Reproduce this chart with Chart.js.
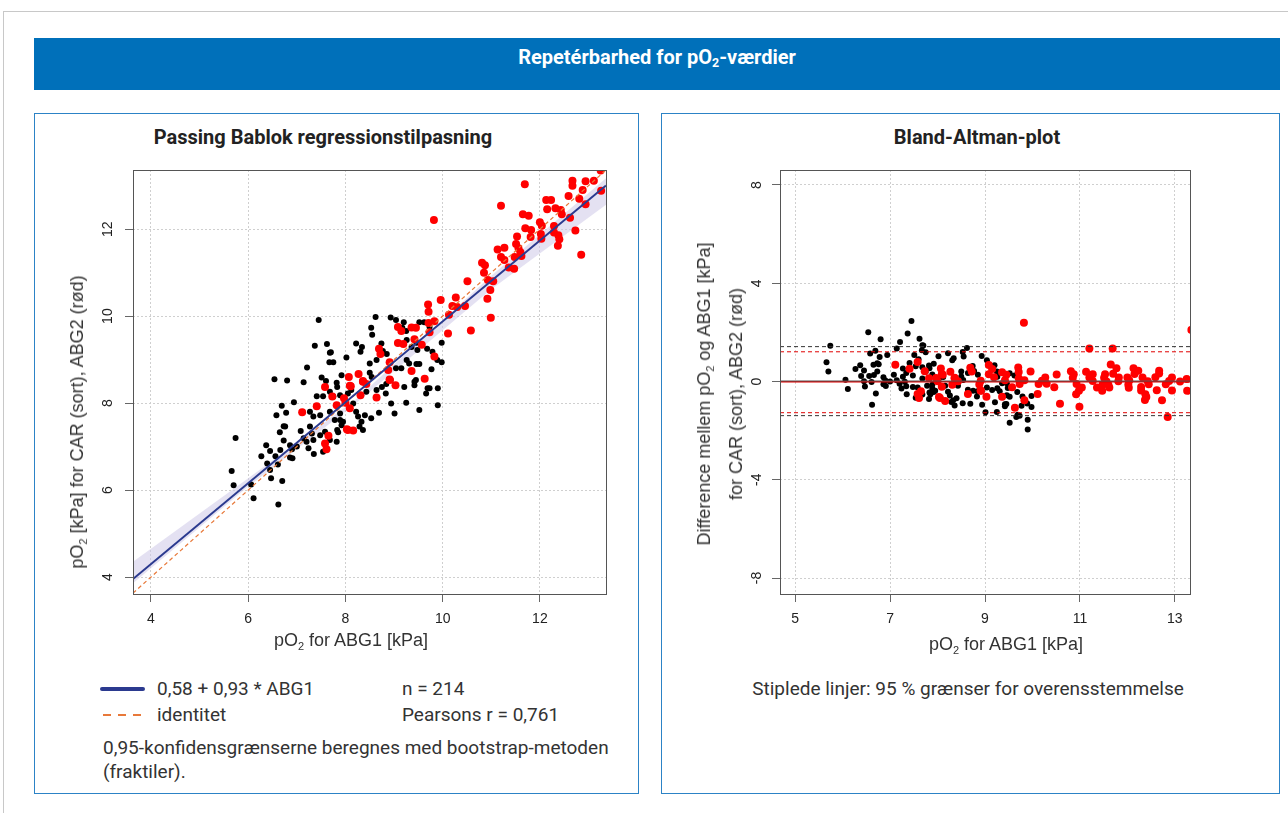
<!DOCTYPE html>
<html>
<head>
<meta charset="utf-8">
<script src="https://cdn.jsdelivr.net/npm/chart.js@4.4.1/dist/chart.umd.min.js"></script>
<style>
body { margin: 0; width: 1288px; height: 813px; overflow: hidden; position: relative; background: #fff; font-family: Roboto, "Liberation Sans", sans-serif; color: #333; }
.frame { position: absolute; left: 3px; top: 11px; width: 1300px; height: 900px; border-top: 1px solid #c8c8c8; border-left: 1px solid #c8c8c8; }
.banner { position: absolute; left: 34px; top: 38px; width: 1246px; height: 52px; background: #0070ba; color: #fff; font-weight: bold; font-size: 20px; text-align: center; line-height: 38px; }
.banner sub, .t sub { font-size: 0.62em; vertical-align: -0.25em; }
.panel { position: absolute; top: 113px; height: 681px; border: 1px solid #2c83c6; box-sizing: border-box; }
.ptitle { position: absolute; top: 125px; font-weight: bold; font-size: 20px; line-height: 24px; color: #222; transform: translateX(-50%); white-space: nowrap; }
.t { position: absolute; white-space: nowrap; font-size: 19px; line-height: 22px; color: #333; }
.ax { position: absolute; white-space: nowrap; font-family: "Liberation Sans", Arial, sans-serif; font-size: 18px; color: #333; line-height: 26px; text-align: center; transform: translate(-50%, -50%); }
.rot { transform: translate(-50%, -50%) rotate(-90deg); }
canvas { position: absolute; }
</style>
</head>
<body>
<div class="frame"></div>
<div class="banner">Repetérbarhed for pO<sub>2</sub>-værdier</div>
<div class="panel" style="left:34px;width:605px;"></div>
<div class="panel" style="left:661px;width:619px;"></div>
<div class="ptitle" style="left:323px;">Passing Bablok regressionstilpasning</div>
<div class="ptitle" style="left:977px;">Bland-Altman-plot</div>

<canvas id="pb" width="590" height="510" style="left:40px;top:150px;"></canvas>
<canvas id="ba" width="590" height="510" style="left:670px;top:150px;"></canvas>

<div class="ax" style="left:351px;top:643px;">pO<sub style="font-size:11px;vertical-align:-4px">2</sub> for ABG1 [kPa]</div>
<div class="ax rot" style="left:80px;top:422px;">pO<sub style="font-size:11px;vertical-align:-4px">2</sub> [kPa] for CAR (sort), ABG2 (rød)</div>
<div class="ax" style="left:1006px;top:647px;">pO<sub style="font-size:11px;vertical-align:-4px">2</sub> for ABG1 [kPa]</div>
<div class="ax rot" style="left:720px;top:394px;">Difference mellem pO<sub style="font-size:11px;vertical-align:-4px">2</sub> og ABG1 [kPa]<br>for CAR (sort), ABG2 (rød)</div>

<div style="position:absolute;left:100px;top:687px;width:45px;height:4px;background:#2b3a8f;border-radius:2px;"></div>
<div style="position:absolute;left:103px;top:714px;width:38px;height:2px;background:repeating-linear-gradient(90deg,#e8793a 0 8px,transparent 8px 15px);"></div>
<div class="t" style="left:157px;top:678px;">0,58 + 0,93 * ABG1</div>
<div class="t" style="left:402px;top:678px;">n = 214</div>
<div class="t" style="left:157px;top:704px;">identitet</div>
<div class="t" style="left:402px;top:704px;">Pearsons r = 0,761</div>
<div class="t" style="left:103px;top:737px;">0,95-konfidensgrænserne beregnes med bootstrap-metoden</div>
<div class="t" style="left:103px;top:761px;">(fraktiler).</div>
<div class="t" style="left:968px;top:678px;transform:translateX(-50%);">Stiplede linjer: 95 % grænser for overensstemmelse</div>

<script>
// data: ABG1 on x, CAR (black) and ABG2 (red) on y
const blackAbg1 = [8.62,8.93,9.04,8.53,8.55,9.20,9.17,9.25,9.52,9.62,9.73,9.26,9.36,9.46,9.48,8.22,8.31,8.34,8.74,8.77,8.85,9.68,9.79,9.98,9.89,9.98,8.02,8.50,8.64,9.04,9.15,9.26,9.31,9.46,9.52,9.77,7.92,7.82,8.50,8.54,8.75,8.84,8.93,9.45,9.42,9.21,9.73,9.90,7.68,7.75,7.45,7.37,7.62,7.70,7.67,7.21,6.54,6.80,7.14,7.51,7.60,7.83,6.69,6.94,6.78,7.41,7.54,7.89,7.27,7.34,7.48,7.68,7.78,7.89,6.58,6.73,6.76,7.08,6.65,6.73,7.27,7.31,7.14,7.20,7.34,7.48,7.58,7.68,7.82,7.85,7.92,6.86,6.90,7.00,6.37,6.45,6.66,6.56,6.86,6.91,6.27,6.39,6.61,6.45,6.47,6.70,5.74,5.66,5.70,6.06,6.11,6.62,7.24,7.35,7.54,7.68,7.75,7.89,7.95,7.83,8.22,8.26,8.33,8.29,8.36,8.16,8.05,8.12,8.40,8.53,8.69,8.43,8.64,8.83,8.94,9.01,9.25,9.52,9.66,9.69,9.90,9.42];
const blackCar  = [9.98,9.97,9.91,9.73,9.57,9.86,9.73,9.66,9.86,9.86,9.75,9.45,9.29,9.39,9.22,9.37,9.18,9.29,9.37,9.20,9.13,9.25,9.18,9.39,8.99,8.94,9.05,8.91,8.99,8.80,8.80,8.99,8.91,8.90,8.90,8.78,8.64,8.47,8.70,8.60,8.37,8.44,8.53,8.53,8.41,8.37,8.34,8.34,9.16,8.94,9.91,9.32,9.36,9.17,8.94,8.82,8.55,8.52,8.48,8.59,8.51,8.37,7.94,8.02,7.78,8.16,8.16,8.18,7.80,7.69,7.72,7.80,7.61,7.61,7.72,7.47,7.46,7.36,7.33,7.14,7.46,7.30,7.19,7.11,7.15,7.26,7.34,7.15,7.11,7.33,7.49,7.03,6.94,7.00,7.03,6.90,6.92,6.78,6.75,6.73,6.78,6.61,6.59,6.46,6.27,6.21,7.20,6.44,6.11,6.13,5.81,5.67,6.96,6.83,6.88,8.26,8.15,7.76,7.57,7.38,7.80,7.69,7.57,7.46,7.38,7.99,8.22,8.30,7.72,7.65,7.78,8.26,8.30,8.22,7.99,7.76,8.01,7.84,8.22,8.34,7.95,8.49];
const redAbg1 = [13.25,11.69,12.67,12.67,12.94,13.11,13.26,12.88,12.59,12.81,12.94,11.20,12.13,12.23,12.15,12.32,12.43,12.45,11.65,11.77,12.62,12.00,12.04,11.70,11.82,12.29,12.73,9.82,11.53,11.51,11.56,11.60,12.02,12.03,11.81,12.29,12.38,12.40,12.37,11.13,11.27,11.20,11.27,11.48,11.36,11.47,11.62,12.85,10.81,10.87,10.85,10.93,11.04,10.98,10.51,10.92,10.99,10.58,10.27,9.96,10.20,10.30,10.46,9.70,9.71,10.13,10.11,9.83,9.71,9.73,9.08,9.15,9.36,9.45,9.42,9.08,9.19,9.57,8.69,8.72,8.91,9.83,9.36,8.88,8.91,8.27,8.36,8.07,9.03,9.63,8.11,7.58,7.73,7.97,8.00,7.82,7.41,7.11,8.03,7.65,7.58,7.61,8.09,8.09,8.36,8.43,8.31,8.64,8.91,8.05,8.16,13.35];
const redAbg2 = [13.35,13.03,13.11,13.00,13.10,13.11,12.88,12.90,12.76,12.70,12.57,12.54,12.67,12.67,12.46,12.48,12.44,12.34,12.34,12.31,12.26,12.16,12.08,12.02,11.98,12.07,11.97,12.21,11.83,11.66,11.56,11.47,11.89,11.78,11.82,11.92,11.86,11.77,11.62,11.53,11.57,11.36,11.29,11.36,11.12,11.09,11.38,11.41,11.23,11.17,11.00,10.83,10.80,10.60,10.80,10.40,9.96,9.67,10.43,10.37,10.23,10.21,10.23,10.27,10.10,10.03,9.60,9.88,9.84,9.63,9.75,9.66,9.74,9.73,9.47,9.38,9.36,9.34,9.25,9.13,8.94,9.07,8.74,8.76,8.54,8.67,8.51,8.60,8.41,8.56,8.39,8.37,8.15,8.11,8.01,7.95,7.93,7.79,7.40,7.25,7.07,6.94,7.88,8.40,8.49,8.44,8.18,8.13,8.53,7.38,7.37,15.45];

// regression 0,58 + 0,93 * ABG1 and its confidence band
const regIntercept = 0.58;
const regSlope = 0.93;
const pbRange = [3.63, 13.36];
const bandX  = [3.63, 6.0, 8.2, 11.0, 13.36];
const bandLo = [3.86, 6.08, 7.98, 10.62, 12.56];
const bandHi = [4.35, 6.27, 8.07, 10.93, 13.17];

// Bland-Altman reference lines
const baRangeX = [4.68, 13.32];
const baRangeY = [-8.65, 8.61];
const blackMean = 0.01, blackLoa = [-1.39, 1.42];
const redMean = -0.02, redLoa = [-1.27, 1.21];

const pbTicks = [4, 6, 8, 10, 12];
const baTicksX = [5, 7, 9, 11, 13];
const baTicksY = [-8, -4, 0, 4, 8];

const zip = (xs, ys) => xs.map((x, i) => ({x: x, y: ys[i]}));
const hline = (v) => baRangeX.map(x => ({x: x, y: v}));

const boxPlugin = {
  id: 'box',
  afterDraw(chart) {
    const {ctx, chartArea: a} = chart;
    ctx.save();
    ctx.strokeStyle = '#555';
    ctx.lineWidth = 1;
    ctx.strokeRect(a.left + 0.5, a.top + 0.5, a.right - a.left, a.bottom - a.top);
    ctx.restore();
  }
};

function axis(min, max, ticks, size, vertical) {
  return {
    type: 'linear', min: min, max: max,
    afterBuildTicks: s => { s.ticks = ticks.map(v => ({value: v})); },
    afterFit: s => { if (vertical) s.width = size; else s.height = size; },
    grid: { color: '#cfcfcf', lineWidth: 1, drawTicks: true, tickLength: 8, tickColor: '#666', tickWidth: 1, tickBorderDash: [] },
    border: { display: false, dash: [2, 2] },
    ticks: vertical
      ? { color: '#222', font: {family: 'Liberation Sans', size: 14}, padding: 9, minRotation: 90, maxRotation: 90, crossAlign: 'center' }
      : { color: '#222', font: {family: 'Liberation Sans', size: 14}, padding: 9, maxRotation: 0 }
  };
}

const common = {
  responsive: false, animation: false, events: [],
  plugins: { legend: {display: false}, tooltip: {enabled: false} }
};

const pointSet = (label, data, color, r, order) => ({
  label: label, data: data, showLine: false, pointRadius: r, pointBackgroundColor: color,
  pointBorderWidth: 0, order: order, clip: 0
});

new Chart(document.getElementById('pb'), {
  type: 'scatter',
  data: {
    datasets: [
      { label: 'regression', data: pbRange.map(x => ({x: x, y: regIntercept + regSlope * x})), showLine: true,
        borderColor: '#2b3a8f', borderWidth: 2, pointRadius: 0, order: 1, clip: 0 },
      { label: 'identitet', data: pbRange.map(x => ({x: x, y: x})), showLine: true,
        borderColor: '#e8793a', borderWidth: 1.2, borderDash: [4, 3], pointRadius: 0, order: 2, clip: 0 },
      pointSet('ABG2', zip(redAbg1, redAbg2), '#ff0000', 4, 3),
      pointSet('CAR', zip(blackAbg1, blackCar), '#000000', 3, 4),
      { label: 'band hi', data: zip(bandX, bandHi), showLine: true, borderWidth: 0, pointRadius: 0,
        fill: '+1', backgroundColor: 'rgba(205,200,232,0.55)', order: 5, clip: 0 },
      { label: 'band lo', data: zip(bandX, bandLo), showLine: true, borderWidth: 0, pointRadius: 0,
        fill: false, order: 6, clip: 0 }
    ]
  },
  options: Object.assign({}, common, {
    layout: { padding: {left: 0, right: 24, top: 20, bottom: 0} },
    scales: { x: axis(pbRange[0], pbRange[1], pbTicks, 66, false), y: axis(3.61, 13.36, pbTicks, 93, true) }
  }),
  plugins: [boxPlugin]
});

new Chart(document.getElementById('ba'), {
  type: 'scatter',
  data: {
    datasets: [
      { label: 'red mean', data: hline(redMean), showLine: true, borderColor: '#e00000', borderWidth: 1, pointRadius: 0, order: 1, clip: 0 },
      { label: 'black mean', data: hline(blackMean), showLine: true, borderColor: '#555', borderWidth: 1.6, pointRadius: 0, order: 2, clip: 0 },
      { label: 'red loa hi', data: hline(redLoa[1]), showLine: true, borderColor: '#e00000', borderWidth: 1, borderDash: [4, 3], pointRadius: 0, order: 1, clip: 0 },
      { label: 'red loa lo', data: hline(redLoa[0]), showLine: true, borderColor: '#e00000', borderWidth: 1, borderDash: [4, 3], pointRadius: 0, order: 1, clip: 0 },
      { label: 'black loa hi', data: hline(blackLoa[1]), showLine: true, borderColor: '#333', borderWidth: 1, borderDash: [4, 3], pointRadius: 0, order: 1, clip: 0 },
      { label: 'black loa lo', data: hline(blackLoa[0]), showLine: true, borderColor: '#333', borderWidth: 1, borderDash: [4, 3], pointRadius: 0, order: 1, clip: 0 },
      pointSet('ABG2', redAbg1.map((x, i) => ({x: x, y: redAbg2[i] - x})), '#ff0000', 4, 3),
      pointSet('CAR', blackAbg1.map((x, i) => ({x: x, y: blackCar[i] - x})), '#000000', 3, 4)
    ]
  },
  options: Object.assign({}, common, {
    layout: { padding: {left: 0, right: 70, top: 20, bottom: 0} },
    scales: { x: axis(baRangeX[0], baRangeX[1], baTicksX, 66, false), y: axis(baRangeY[0], baRangeY[1], baTicksY, 110, true) }
  }),
  plugins: [boxPlugin]
});
</script>
</body>
</html>
